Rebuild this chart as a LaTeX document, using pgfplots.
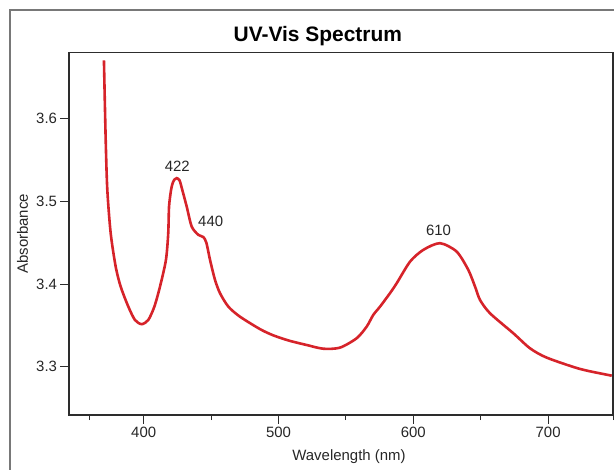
\documentclass[border=0pt]{standalone}
\usepackage{pgfplots}
\pgfplotsset{compat=1.18}
\usepackage{fontspec}
\setmainfont{Liberation Sans}
\definecolor{curvered}{RGB}{214,35,42}
\definecolor{framegray}{RGB}{120,120,120}
\definecolor{axisgray}{RGB}{45,45,45}
\pgfplotstableread{
lam A
370.5 3.6707
371.8 3.5746
373.0 3.5141
375.5 3.4616
379.2 3.4212
382.9 3.3970
388.6 3.3727
393.5 3.3566
398.5 3.3515
403.4 3.3566
407.9 3.3727
412.1 3.3970
416.5 3.4293
418.2 3.4616
418.8 3.4938
420.3 3.5141
421.5 3.5222
422.8 3.5265
424.5 3.5282
426.6 3.5255
428.6 3.5141
431.9 3.4938
435.6 3.4696
440.5 3.4596
444.2 3.4570
446.5 3.4500
449.2 3.4293
452.9 3.4051
456.6 3.3890
462.8 3.3727
471.4 3.3606
486.3 3.3455
496.1 3.3380
508.0 3.3315
520.9 3.3263
533.2 3.3218
545.6 3.3231
558.0 3.3345
565.4 3.3485
570.3 3.3627
575.3 3.3727
582.7 3.3890
587.7 3.4011
597.6 3.4272
607.4 3.4414
619.8 3.4495
632.2 3.4393
640.8 3.4172
645.8 3.3970
649.5 3.3808
656.9 3.3647
674.2 3.3405
686.6 3.3223
699.0 3.3110
723.7 3.2973
747.2 3.2892
}\spectrum
\begin{document}
\begin{tikzpicture}
\useasboundingbox (0,0) rectangle (614bp,470bp);
\draw[framegray, line width=2bp, line join=miter] (10bp,0bp) -- (10bp,460bp) -- (614bp,460bp);
\node[anchor=base, font=\fontsize{21}{24}\selectfont\bfseries] at (317.8bp,428.3bp) {UV-Vis Spectrum};
\begin{axis}[
  at={(69bp,55bp)}, anchor=south west,
  scale only axis, width=544bp, height=362.3bp,
  xmin=344.58, xmax=748.15, ymin=3.2416, ymax=3.680,
  axis line style={axisgray, line width=1.3bp},
  tick style={axisgray, line width=1bp},
  tick align=outside, major tick length=8.5bp,
  xtick pos=bottom, ytick pos=left,
  xtick={400,500,600,700},
  ytick={3.3,3.4,3.5,3.6},
  yticklabels={3.3,3.4,3.5,3.6},
  extra x ticks={359.6,450,550,650,748.15},
  extra x tick labels={},
  extra x tick style={major tick length=5bp},
  /pgf/number format/assume math mode=true,
  ticklabel style={font=\fontsize{15}{18}\selectfont, text=black!85},
  xlabel={Wavelength (nm)},
  ylabel={Absorbance},
  label style={font=\fontsize{15}{18}\selectfont, text=black!85},
  xlabel style={at={(axis description cs:0.5147,-0.1242)}, anchor=base},
  ylabel style={at={(axis description cs:-0.0855,0.5)}, anchor=center},
  clip=false,
]
\addplot[curvered, line width=2.6bp, smooth, tension=0.45] table[x=lam, y=A] {\spectrum};
\node[anchor=base, font=\fontsize{15}{18}\selectfont, text=black!85] at (axis cs:424.9,3.5362) {422};
\node[anchor=base, font=\fontsize{15}{18}\selectfont, text=black!85] at (axis cs:449.7,3.4693) {440};
\node[anchor=base, font=\fontsize{15}{18}\selectfont, text=black!85] at (axis cs:618.7,3.4584) {610};
\end{axis}
\end{tikzpicture}
\end{document}
